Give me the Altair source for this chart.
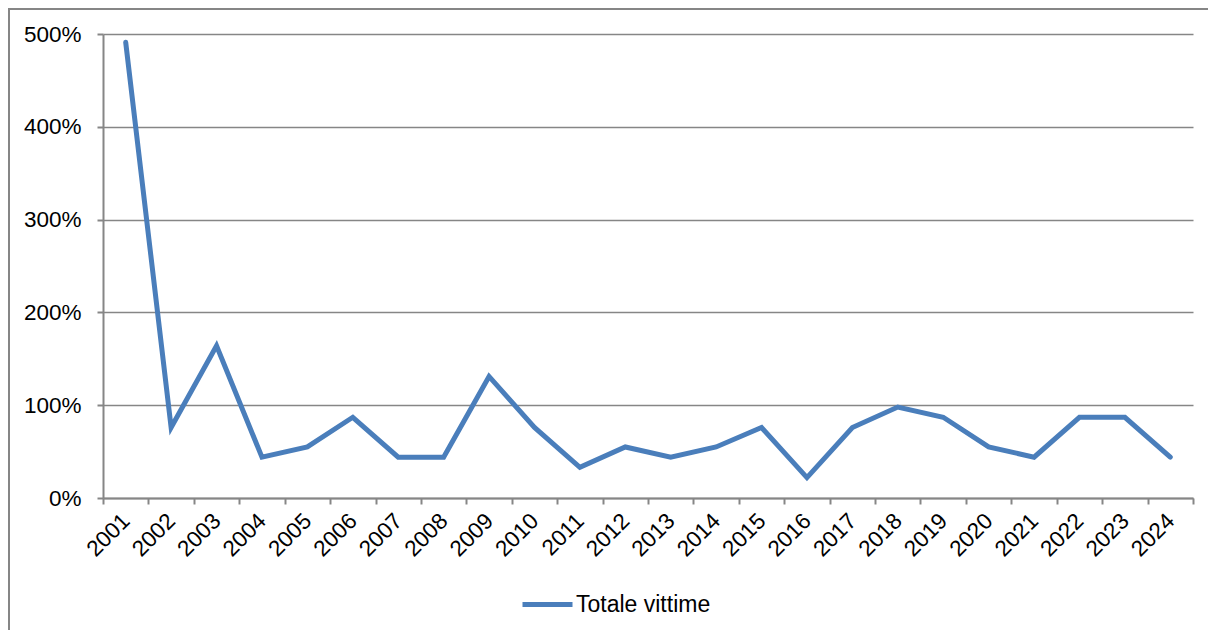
import altair as alt
import pandas as pd

anni = ["2001", "2002", "2003", "2004", "2005", "2006", "2007", "2008",
        "2009", "2010", "2011", "2012", "2013", "2014", "2015", "2016",
        "2017", "2018", "2019", "2020", "2021", "2022", "2023", "2024"]
valori = [4.91, 0.76, 1.64, 0.44, 0.55, 0.87, 0.44, 0.44,
          1.31, 0.76, 0.33, 0.55, 0.44, 0.55, 0.76, 0.22,
          0.76, 0.98, 0.87, 0.55, 0.44, 0.87, 0.87, 0.44]
serie = "Totale vittime"
tick_y = [0, 1, 2, 3, 4, 5]

W, H = 1090, 464
GREY = "#868686"
BLUE = "#4A7EBB"
FONT = "Liberation Sans"

df = pd.DataFrame({"Anno": anni, "Valore": valori, "Serie": [serie] * len(anni)})

border = alt.Chart(pd.DataFrame({"a": [0]})).mark_rect(
    filled=False, stroke=GREY, strokeWidth=2
).encode(
    x=alt.value(-94), x2=alt.value(W + 60),
    y=alt.value(-25), y2=alt.value(H + 300),
)

line = alt.Chart(df).mark_line(strokeWidth=5, strokeCap="round").encode(
    x=alt.X(
        "Anno:O",
        bandPosition=0.5,
        sort=anni,
        scale=alt.Scale(type="band", paddingInner=0, paddingOuter=0),
        axis=alt.Axis(
            title=None, labelAngle=-45, labelAlign="right", labelBaseline="middle",
            tickBand="extent", grid=False, labelPadding=13, tickSize=6,
        ),
    ),
    y=alt.Y(
        "Valore:Q",
        scale=alt.Scale(domain=[0, 5], nice=False),
        axis=alt.Axis(
            title=None, values=tick_y, format=".0%", tickSize=6, labelPadding=16,
            grid=True,
        ),
    ),
    color=alt.Color(
        "Serie:N",
        scale=alt.Scale(domain=[serie], range=[BLUE]),
        legend=alt.Legend(
            title=None, orient="none", legendX=417, legendY=543,
            symbolType="stroke", symbolSize=2500, symbolStrokeWidth=5,
            labelFont=FONT, labelFontSize=23, labelColor="#000000",
            labelOffset=1, padding=0,
        ),
    ),
)

chart = alt.layer(border, line).properties(
    width=W, height=H,
    autosize="none",
    padding={"left": 95, "top": 26, "right": 15, "bottom": 132},
    background="white",
).configure_view(stroke=None).configure_axis(
    domainColor=GREY, domainWidth=2, tickColor=GREY, tickWidth=2,
    gridColor=GREY, gridWidth=1.6,
    labelFont=FONT, labelFontSize=22.5, labelColor="#000000",
)

chart.save("out.html", embed_options={"renderer": "svg", "actions": False})
